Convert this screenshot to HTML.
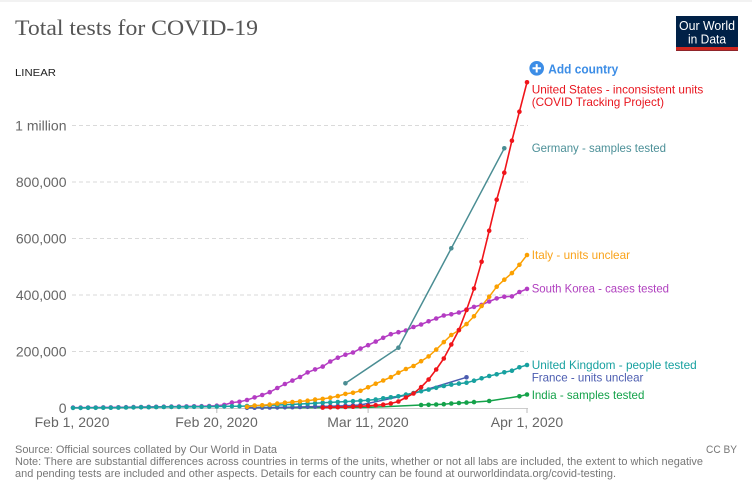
<!DOCTYPE html>
<html><head><meta charset="utf-8"><style>
html,body{margin:0;padding:0;background:#fff;width:752px;height:488px;overflow:hidden}
svg{display:block}
text{font-family:"Liberation Sans",Arial,sans-serif}
</style></head><body>
<svg width="752" height="488" viewBox="0 0 752 488" xmlns="http://www.w3.org/2000/svg">
<defs>
<marker id="mUS" markerWidth="6" markerHeight="6" refX="3" refY="3" markerUnits="userSpaceOnUse"><circle cx="3" cy="3" r="2.3" fill="#f0141a"/></marker>
<marker id="mDE" markerWidth="6" markerHeight="6" refX="3" refY="3" markerUnits="userSpaceOnUse"><circle cx="3" cy="3" r="2.3" fill="#4a8d93"/></marker>
<marker id="mIT" markerWidth="6" markerHeight="6" refX="3" refY="3" markerUnits="userSpaceOnUse"><circle cx="3" cy="3" r="2.3" fill="#fba000"/></marker>
<marker id="mKR" markerWidth="6" markerHeight="6" refX="3" refY="3" markerUnits="userSpaceOnUse"><circle cx="3" cy="3" r="2.3" fill="#b43cc3"/></marker>
<marker id="mUK" markerWidth="6" markerHeight="6" refX="3" refY="3" markerUnits="userSpaceOnUse"><circle cx="3" cy="3" r="2.3" fill="#18a1a0"/></marker>
<marker id="mFR" markerWidth="6" markerHeight="6" refX="3" refY="3" markerUnits="userSpaceOnUse"><circle cx="3" cy="3" r="2.3" fill="#4b5cb0"/></marker>
<marker id="mIN" markerWidth="6" markerHeight="6" refX="3" refY="3" markerUnits="userSpaceOnUse"><circle cx="3" cy="3" r="2.3" fill="#14a24a"/></marker>
</defs>

<rect x="0" y="0" width="752" height="2" fill="#f2f2f2"/>

<!-- Title -->
<text x="15" y="35" font-size="22.5" fill="#555" textLength="243" lengthAdjust="spacingAndGlyphs" style="font-family:'Liberation Serif',serif">Total tests for COVID-19</text>
<text x="15" y="76" font-size="10.5" fill="#222" textLength="41" lengthAdjust="spacingAndGlyphs">LINEAR</text>

<!-- Logo -->
<rect x="676" y="16" width="62" height="35" fill="#002147"/>
<rect x="676" y="47" width="62" height="3.7" fill="#ce261e"/>
<text x="707" y="30" font-size="12.5" fill="#fff" text-anchor="middle" textLength="56" lengthAdjust="spacingAndGlyphs">Our World</text>
<text x="707" y="43.5" font-size="12.5" fill="#fff" text-anchor="middle" textLength="38" lengthAdjust="spacingAndGlyphs">in Data</text>

<!-- Add country -->
<circle cx="536.7" cy="68.3" r="7.3" fill="#3c8de6"/>
<path d="M532.5 68.3 H540.9 M536.7 64.1 V72.5" stroke="#fff" stroke-width="2"/>
<text x="548.3" y="73.3" font-size="13" font-weight="bold" fill="#3c8de6" textLength="70" lengthAdjust="spacingAndGlyphs">Add country</text>

<!-- Gridlines -->
<g stroke="#dadada" stroke-width="1" stroke-dasharray="4,3">
<line x1="72" y1="125.5" x2="528" y2="125.5"/>
<line x1="72" y1="182" x2="528" y2="182"/>
<line x1="72" y1="238.5" x2="528" y2="238.5"/>
<line x1="72" y1="295" x2="528" y2="295"/>
<line x1="72" y1="351.5" x2="528" y2="351.5"/>
</g>
<line x1="72" y1="408.5" x2="528" y2="408.5" stroke="#ccc" stroke-width="1"/>
<g stroke="#bbb" stroke-width="1">
<line x1="216.8" y1="408.5" x2="216.8" y2="413"/>
<line x1="368.1" y1="408.5" x2="368.1" y2="413"/>
<line x1="527" y1="408.5" x2="527" y2="413"/>
</g>

<!-- Y labels -->
<g font-size="14" fill="#666" text-anchor="end">
<text x="66.5" y="130.5">1 million</text>
<text x="66.5" y="187">800,000</text>
<text x="66.5" y="243.5">600,000</text>
<text x="66.5" y="300">400,000</text>
<text x="66.5" y="356.5">200,000</text>
<text x="66.5" y="413">0</text>
</g>
<!-- X labels -->
<g font-size="14" fill="#666" text-anchor="middle">
<text x="72" y="427">Feb 1, 2020</text>
<text x="216.5" y="427">Feb 20, 2020</text>
<text x="368" y="427">Mar 11, 2020</text>
<text x="527" y="427">Apr 1, 2020</text>
</g>

<!-- India -->
<polyline fill="none" stroke="#14a24a" stroke-width="1.5" points="247.0,407.9 368.1,407.4 421.1,405.0"/>
<polyline fill="none" stroke="#14a24a" stroke-width="1.5" marker-start="url(#mIN)" marker-mid="url(#mIN)" marker-end="url(#mIN)" points="421.1,405.0 428.6,404.8 436.2,404.5 443.8,404.2 451.3,403.5 458.9,403.0 466.5,402.6 474.0,402.1 489.2,401.0 519.4,396.3 527.0,394.5"/>

<!-- France -->
<polyline fill="none" stroke="#4b5cb0" stroke-width="1.5" marker-start="url(#mFR)" marker-mid="url(#mFR)" marker-end="url(#mFR)" points="247.0,407.8 254.6,407.7 262.2,407.6 269.7,407.5 277.3,407.4 284.9,407.3 292.4,407.2 300.0,407.0 307.6,406.8 315.1,406.6 322.7,406.4 330.3,406.2 337.8,406.0 345.4,405.7 353.0,405.4 360.5,405.0"/>
<polyline fill="none" stroke="#4b5cb0" stroke-width="1.5" points="360.5,405.0 413.5,393.5 466.5,377.3"/>
<circle cx="466.5" cy="377.3" r="2.3" fill="#4b5cb0"/>

<!-- South Korea -->
<polyline fill="none" stroke="#b43cc3" stroke-width="1.5" marker-start="url(#mKR)" marker-mid="url(#mKR)" marker-end="url(#mKR)" points="73.0,407.6 80.6,407.6 88.1,407.5 95.7,407.5 103.3,407.4 110.8,407.4 118.4,407.3 126.0,407.2 133.5,407.1 141.1,407.0 148.7,406.9 156.2,406.8 163.8,406.7 171.4,406.6 178.9,406.5 186.5,406.4 194.1,406.3 201.6,406.2 209.2,406.0 216.8,405.7 224.3,404.9 231.9,402.6 239.5,401.8 247.0,400.0 254.6,397.4 262.2,395.0 269.7,392.2 277.3,388.0 284.9,384.0 292.4,380.6 300.0,377.0 307.6,372.4 315.1,369.4 322.7,366.6 330.3,361.5 337.8,357.7 345.4,354.7 353.0,352.5 360.5,348.6 368.1,345.2 375.7,341.6 383.2,337.8 390.8,334.2 398.4,332.2 405.9,330.5 413.5,327.0 421.1,324.5 428.6,321.3 436.2,318.5 443.8,315.5 451.3,314.3 458.9,312.5 466.5,309.5 474.0,306.9 481.6,304.9 489.2,301.5 496.7,298.4 504.3,296.7 511.9,296.4 519.4,292.0 527.0,288.9"/>

<!-- UK -->
<polyline fill="none" stroke="#18a1a0" stroke-width="1.5" marker-start="url(#mUK)" marker-mid="url(#mUK)" marker-end="url(#mUK)" points="73.0,407.9 80.6,407.9 88.1,407.8 95.7,407.8 103.3,407.7 110.8,407.7 118.4,407.6 126.0,407.5 133.5,407.4 141.1,407.3 148.7,407.2 156.2,407.1 163.8,407.0 171.4,406.9 178.9,406.9 186.5,406.9 194.1,406.8 201.6,406.7 209.2,406.6 216.8,406.5 224.3,406.4 231.9,406.3 239.5,406.2 247.0,406.0 254.6,405.8 262.2,405.6 269.7,405.3 277.3,405.0 284.9,404.7 292.4,404.4 300.0,404.0 307.6,403.6 315.1,403.2 322.7,402.8 330.3,402.4 337.8,402.0 345.4,401.6 353.0,401.2 360.5,400.8 368.1,400.3 375.7,399.5 383.2,398.3 390.8,397.3 398.4,396.3 405.9,394.6 413.5,393.0 421.1,391.2 428.6,389.6 436.2,387.8 443.8,386.0 451.3,384.6 458.9,383.6 466.5,382.7 474.0,380.7 481.6,378.3 489.2,376.0 496.7,374.3 504.3,372.3 511.9,370.7 519.4,367.3 527.0,365.0"/>

<!-- Italy -->
<polyline fill="none" stroke="#fba000" stroke-width="1.5" marker-start="url(#mIT)" marker-mid="url(#mIT)" marker-end="url(#mIT)" points="247.0,406.8 254.6,405.6 262.2,405.3 269.7,404.6 277.3,403.6 284.9,402.7 292.4,402.0 300.0,401.4 307.6,400.7 315.1,399.6 322.7,398.9 330.3,397.7 337.8,396.1 345.4,393.9 353.0,392.8 360.5,390.8 368.1,387.3 375.7,383.7 383.2,380.5 390.8,377.2 398.4,372.7 405.9,369.0 413.5,366.0 421.1,361.2 428.6,356.4 436.2,349.6 443.8,342.1 451.3,335.0 458.9,330.2 466.5,324.1 474.0,316.3 481.6,306.0 489.2,296.7 496.7,286.7 504.3,279.7 511.9,273.1 519.4,264.8 527.0,255.0"/>

<!-- Germany -->
<polyline fill="none" stroke="#4a8d93" stroke-width="1.5" marker-start="url(#mDE)" marker-mid="url(#mDE)" marker-end="url(#mDE)" points="345.4,383.3 398.4,347.7 451.3,248.3 504.3,148.3"/>

<!-- United States -->
<polyline fill="none" stroke="#f0141a" stroke-width="1.6" marker-start="url(#mUS)" marker-mid="url(#mUS)" marker-end="url(#mUS)" points="322.7,407.6 330.3,407.3 337.8,407.2 345.4,407.0 353.0,406.7 360.5,406.3 368.1,405.8 375.7,405.3 383.2,404.7 390.8,403.5 398.4,401.5 405.9,397.5 413.5,393.5 421.1,387.2 428.6,379.5 436.2,369.5 443.8,358.5 451.3,344.5 458.9,330.0 466.5,310.0 474.0,288.5 481.6,261.8 489.2,230.7 496.7,199.7 504.3,172.7 511.9,140.7 519.4,111.7 527.0,82.3"/>

<!-- Series labels -->
<g font-size="12">
<text x="531.7" y="93.3" fill="#e8161f" textLength="171.6" lengthAdjust="spacingAndGlyphs">United States - inconsistent units</text>
<text x="531.7" y="105.8" fill="#e8161f" textLength="132.3" lengthAdjust="spacingAndGlyphs">(COVID Tracking Project)</text>
<text x="531.7" y="152" fill="#4c9098" textLength="134.3" lengthAdjust="spacingAndGlyphs">Germany - samples tested</text>
<text x="531.7" y="259" fill="#f9a31b" textLength="98.3" lengthAdjust="spacingAndGlyphs">Italy - units unclear</text>
<text x="531.7" y="292.5" fill="#b040bf" textLength="137.3" lengthAdjust="spacingAndGlyphs">South Korea - cases tested</text>
<text x="531.7" y="369.2" fill="#18a1a0" textLength="165" lengthAdjust="spacingAndGlyphs">United Kingdom - people tested</text>
<text x="531.7" y="381.6" fill="#4b5cb0" textLength="111.7" lengthAdjust="spacingAndGlyphs">France - units unclear</text>
<text x="531.7" y="399" fill="#14a24a" textLength="112.7" lengthAdjust="spacingAndGlyphs">India - samples tested</text>
</g>

<!-- Footer -->
<g font-size="11" fill="#777">
<text x="15" y="453" textLength="262" lengthAdjust="spacingAndGlyphs">Source: Official sources collated by Our World in Data</text>
<text x="15" y="465" textLength="688" lengthAdjust="spacingAndGlyphs">Note: There are substantial differences across countries in terms of the units, whether or not all labs are included, the extent to which negative</text>
<text x="15" y="477" textLength="601" lengthAdjust="spacingAndGlyphs">and pending tests are included and other aspects. Details for each country can be found at ourworldindata.org/covid-testing.</text>
<text x="706" y="453" textLength="31" lengthAdjust="spacingAndGlyphs">CC BY</text>
</g>
</svg>
</body></html>
